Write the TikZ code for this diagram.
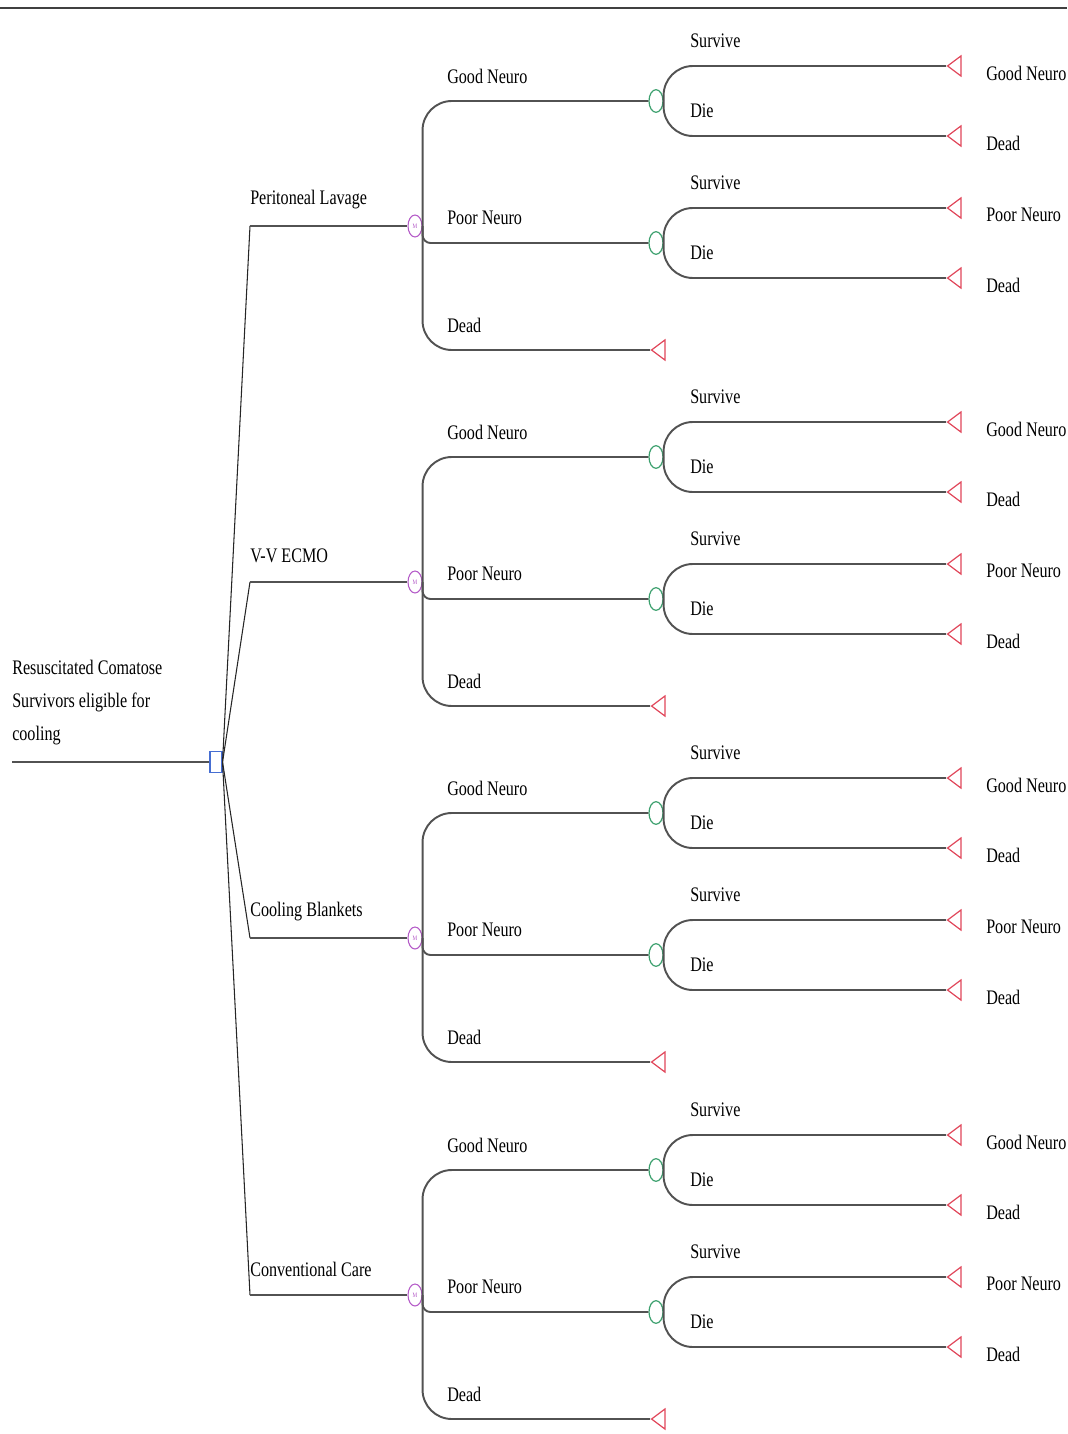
\documentclass[tikz,border=0pt]{standalone}
\usepackage{fontspec}
\setmainfont{Liberation Serif}[FakeStretch=0.78]
\usetikzlibrary{shapes.geometric}

\definecolor{decblue}{RGB}{70,110,210}
\definecolor{markovpurple}{RGB}{180,90,200}
\definecolor{chancegreen}{RGB}{60,160,110}
\definecolor{termred}{RGB}{225,70,90}

\tikzset{
  lbl/.style={anchor=west, inner sep=0pt, font=\fontsize{15.5}{17}\selectfont},
  branch/.style={draw=black!68, line width=1.45pt},
  fork/.style={draw=black!85, line width=0.8pt},
  decision/.style={rectangle, draw=decblue, fill=white, line width=0.8pt, inner sep=0pt,
    minimum width=9pt, minimum height=15.5pt},
  markov/.style={ellipse, draw=markovpurple, fill=white, line width=0.8pt, inner sep=0pt,
    minimum width=10.5pt, minimum height=16.5pt, text=markovpurple, font=\fontsize{5}{5}\selectfont},
  chance/.style={ellipse, draw=chancegreen, fill=white, line width=0.9pt, inner sep=0pt,
    minimum width=10.5pt, minimum height=17pt},
  terminal/.style={isosceles triangle, shape border rotate=180, isosceles triangle stretches,
    draw=termred, fill=white, line width=0.9pt, inner sep=0pt,
    minimum width=15pt, minimum height=10pt, anchor=apex},
}

\begin{document}
\begin{tikzpicture}[x=0.75pt, y=-0.75pt]
  \useasboundingbox (0,0) rectangle (1067,1434);
  \draw[black!75, line width=1.5pt] (0,8.5) -- (1067,8.5);
  % decision node and the population
  \coordinate (start) at (12,762);
  \node[decision] (root) at (216,762) {};
  \node[lbl, anchor=north west, align=left, font=\fontsize{15.5}{24.75}\selectfont] (rootlab) at (12,660)
    {Resuscitated Comatose\\Survivors eligible for\\cooling};
  \draw[branch] (start) -- (root.west);
  \foreach \s/\lab/\y in {pl/Peritoneal Lavage/226, vv/V-V ECMO/582,
                          cb/Cooling Blankets/938, cc/Conventional Care/1295}{
    \coordinate (\s-bend) at (250,\y);
    \node[markov] (\s) at (415,\y) {M};
    \node[lbl] (\s-lab) at (250,\y-26) {\lab};
    \draw[fork] (root.east) -- (\s-bend);
    \draw[branch] (\s-bend) -- (\s.west);
    % states after the Markov node
    \node[chance] (\s-g) at (656,\y-125) {};
    \node[chance] (\s-p) at (656,\y+17) {};
    \node[terminal] (\s-d) at (650,\y+124) {};
    \node[lbl] (\s-glab) at (447,\y-150) {Good Neuro};
    \node[lbl] (\s-plab) at (447,\y-8) {Poor Neuro};
    \node[lbl] (\s-dlab) at (447,\y+99) {Dead};
    \draw[branch, rounded corners=22pt] (\s.east) |- (\s-g.west);
    \draw[branch, rounded corners=22pt] (\s.east) |- (\s-d.apex);
    \draw[branch, rounded corners=6pt] (\s.east) |- (\s-p.west);
    % survive or die
    \foreach \k/\dy/\state in {g/-125/Good Neuro, p/17/Poor Neuro}{
      \node[terminal] (\s-\k-sv) at (946,\y+\dy-35) {};
      \node[terminal] (\s-\k-die) at (946,\y+\dy+35) {};
      \node[lbl] (\s-\k-svlab) at (690,\y+\dy-60) {Survive};
      \node[lbl] (\s-\k-dielab) at (690,\y+\dy+10) {Die};
      \node[lbl] (\s-\k-svout) at (986,\y+\dy-28) {\state};
      \node[lbl] (\s-\k-dieout) at (986,\y+\dy+42) {Dead};
      \draw[branch, rounded corners=22pt] (\s-\k.east) |- (\s-\k-sv.apex);
      \draw[branch, rounded corners=22pt] (\s-\k.east) |- (\s-\k-die.apex);
    }
  }
\end{tikzpicture}
\end{document}
